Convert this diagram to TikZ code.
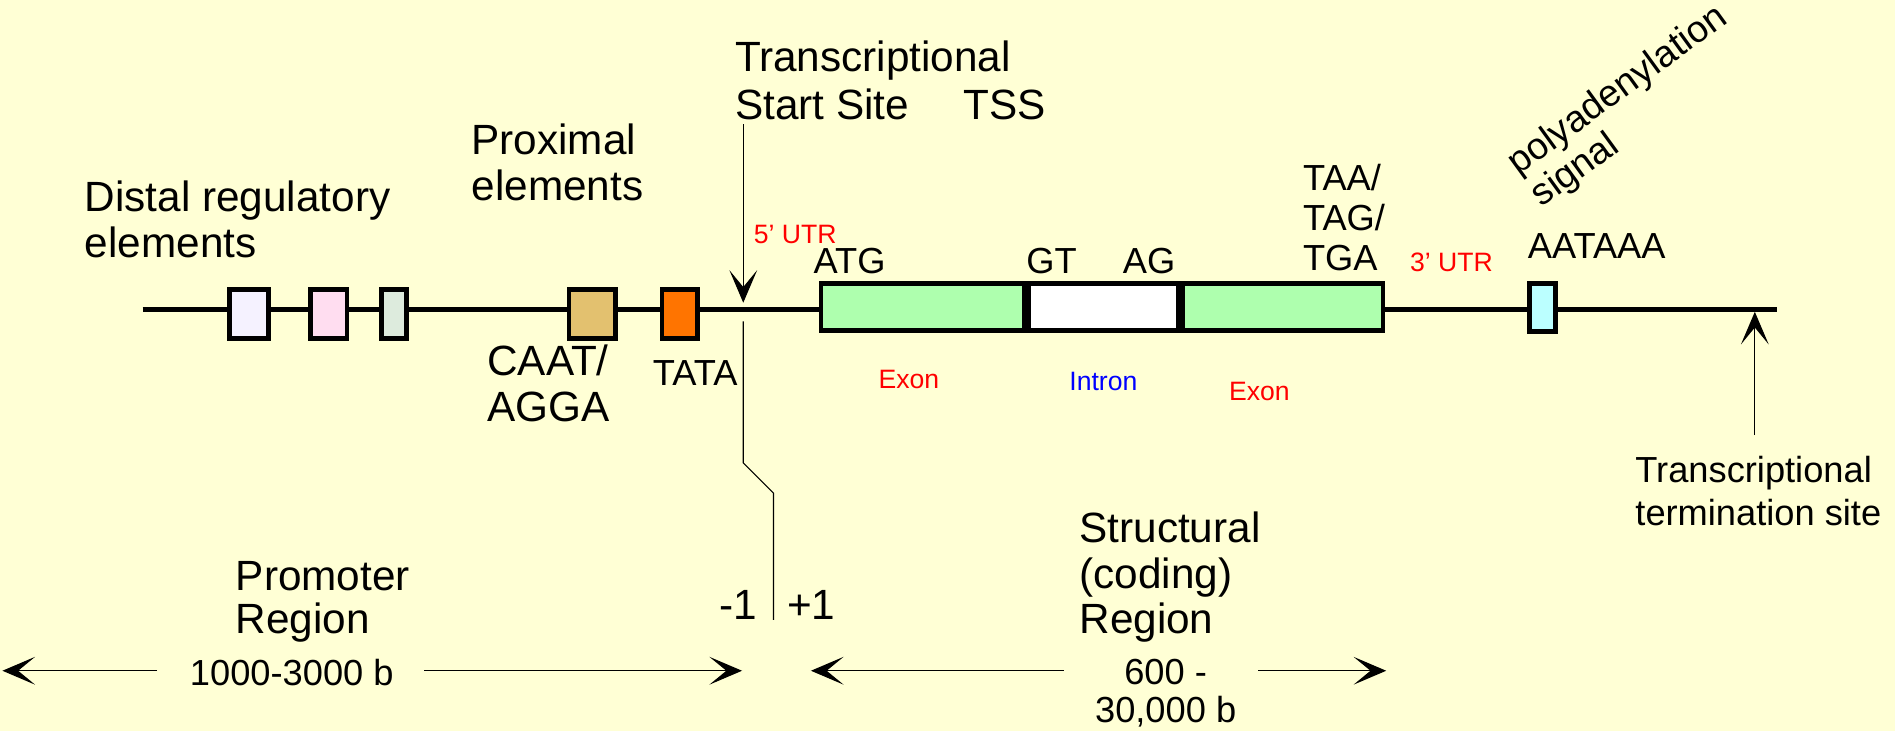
\documentclass[tikz,border=0pt]{standalone}
\usepackage{fontspec}
\setmainfont{Liberation Sans}
\usepackage{tikz}
\usetikzlibrary{arrows.meta, positioning}
\definecolor{paper}{RGB}{255,255,213}
\definecolor{distA}{RGB}{245,242,255}
\definecolor{distB}{RGB}{255,221,240}
\definecolor{distC}{RGB}{221,235,221}
\definecolor{caat}{RGB}{227,193,111}
\definecolor{tata}{RGB}{255,116,0}
\definecolor{exongreen}{RGB}{174,255,174}
\definecolor{polya}{RGB}{187,255,255}

\begin{document}
\begin{tikzpicture}[x=1pt, y=-1pt,
  dna/.style={line width=4.2pt},
  genebox/.style={draw, line width=3.8pt, inner sep=0pt},
  bigtext/.style={font=\fontsize{35}{38}\selectfont, inner sep=0pt, align=left},
  midtext/.style={font=\fontsize{30}{32}\selectfont, inner sep=0pt, align=left},
  smalltext/.style={font=\fontsize{22}{24}\selectfont, inner sep=0pt},
  thinline/.style={line width=1pt},
  pointer/.style={thinline, -{Stealth[length=27pt, width=23pt, inset=14pt]}},
]

% coordinates are pixels of the reference, y going down
\fill[paper] (0,0) rectangle (1568,605);
\useasboundingbox (0,0) rectangle (1568,605);

% the dna strand
\coordinate (strand start) at (118,256);
\coordinate (strand end) at (1470,256);
\draw[dna] (strand start) -- (strand end);

% promoter elements: x centre / inner width / colour / name
\foreach \cx/\w/\col/\nm in {206/32.5/distA/distA, 272/30.5/distB/distB, 326/20.5/distC/distC, 490/38.5/caat/caat, 562.5/29.5/tata/tata} {
	\node[genebox, fill=\col, minimum width=\w pt, minimum height=40.5pt] (\nm) at (\cx,260) {};
}

% structural gene
\node[genebox, fill=exongreen, minimum width=168.5pt, minimum height=38.5pt] (exonA) at (763.5,254) {};
\node[genebox, fill=white, minimum width=124pt, minimum height=38.5pt] (intron) at (913.25,254) {};
\node[genebox, fill=exongreen, minimum width=165.5pt, minimum height=38.5pt] (exonB) at (1061.5,254) {};
\node[genebox, fill=polya, minimum width=21.5pt, minimum height=39.5pt] (polyabox) at (1276.5,254.5) {};

% labels above the strand
\node[bigtext, anchor=north west] (distal) at (70,149.5) {Distal regulatory\\elements};
\node[bigtext, anchor=north west] (proximal) at (390,102) {Proximal\\elements};
\node[bigtext, anchor=north west, font=\fontsize{35}{39}\selectfont] (tsslabel) at (608,34) {Transcriptional\\Start Site\hspace{45pt}TSS};
\node[smalltext, red] (utr5) at (658,194) {5’ UTR};
\node[midtext, anchor=base west] (atg) at (673,226) {ATG};
\node[midtext, anchor=base west] (gt) at (849,226) {GT};
\node[midtext, anchor=base west] (ag) at (929,226) {AG};
\node[midtext, anchor=north west, font=\fontsize{30}{33}\selectfont] (stop) at (1078,135.5) {TAA/\\TAG/\\TGA};
\node[smalltext, red] (utr3) at (1201,217) {3’ UTR};
\node[midtext, anchor=base west] (aataaa) at (1264,214) {AATAAA};
\node[midtext, anchor=north west, rotate=36, font=\fontsize{31}{33}\selectfont] (polyalabel) at (1243,127) {polyadenylation\\signal};

% labels below the strand
\node[bigtext, anchor=north west] (caatlabel) at (403,285.5) {CAAT/\\AGGA};
\node[midtext, anchor=base west] (tatalabel) at (540,319) {TATA};
\node[smalltext, red] (exonAlabel) at (752,314) {Exon};
\node[smalltext, blue] (intronlabel) at (913,316) {Intron};
\node[smalltext, red] (exonBlabel) at (1042,324) {Exon};
\node[midtext, anchor=north west, font=\fontsize{30}{35}\selectfont] (termlabel) at (1353,377.5) {Transcriptional\\termination site};

% regions
\node[bigtext, anchor=north west] (structural) at (893,423) {Structural\\(coding)\\Region};
\node[bigtext, anchor=north west, font=\fontsize{35}{36}\selectfont] (promoter) at (195,464) {Promoter\\Region};
\node[bigtext, anchor=base west] (minus) at (595,513) {-1};
\node[bigtext, anchor=base west] (plus) at (651,513) {+1};
\node[midtext, anchor=base west] (promlen) at (157,567) {1000-3000 b};
\node[midtext, anchor=north, align=center, font=\fontsize{30}{31}\selectfont] (structlen) at (964.5,545.5) {600 -\\30,000 b};

% transcriptional start site
\coordinate (tss top) at (615,103);
\coordinate (tss tip) at (615,250.5);
\draw[pointer] (tss top) -- (tss tip);
\coordinate (zz a) at (615,266);
\coordinate (zz b) at (615,383);
\coordinate (zz c) at (640,408);
\coordinate (zz d) at (640,513);
\draw[thinline] (zz a) -- (zz b) -- (zz c) -- (zz d);

% transcriptional termination site
\coordinate (term foot) at (1452,360);
\coordinate (term tip) at (1452,258);
\draw[pointer] (term foot) -- (term tip);

% lengths
\coordinate (pl a) at (130,555);
\coordinate (pl b) at (2,555);
\coordinate (pr a) at (351,555);
\coordinate (pr b) at (614,555);
\coordinate (sl a) at (880,555);
\coordinate (sl b) at (671,555);
\coordinate (sr a) at (1041,555);
\coordinate (sr b) at (1147,555);
\draw[pointer] (pl a) -- (pl b);
\draw[pointer] (pr a) -- (pr b);
\draw[pointer] (sl a) -- (sl b);
\draw[pointer] (sr a) -- (sr b);

\end{tikzpicture}
\end{document}
